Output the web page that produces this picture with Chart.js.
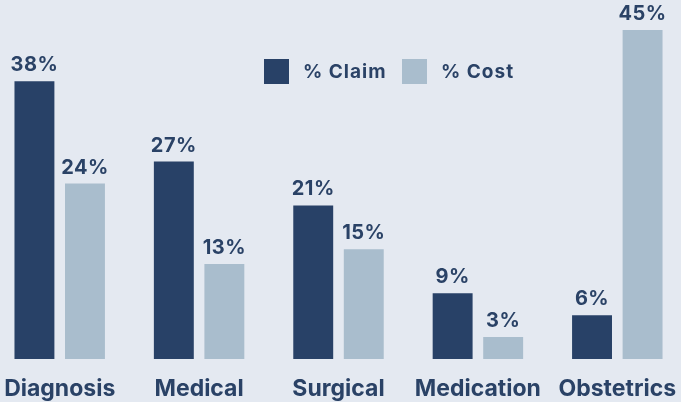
<!DOCTYPE html>
<html lang="en">
<head>
    <meta charset="UTF-8">
    <meta name="viewport" content="width=device-width, initial-scale=1.0">
    <title>Claims vs Cost by Category</title>
    <style>
        html, body {
            margin: 0;
            padding: 0;
            background-color: #e4e9f1;
            overflow: hidden;
        }
        .chart-wrap {
            position: absolute;
            left: -10px;
            top: 0;
            width: 697px;
            height: 402px;
        }
    </style>
</head>
<body>
    <div class="chart-wrap">
        <canvas id="claimChart"></canvas>
    </div>

    <script src="https://cdn.jsdelivr.net/npm/chart.js"></script>
    <script>
        // Chart data
        const categories = ['Diagnosis', 'Medical', 'Surgical', 'Medication', 'Obstetrics'];
        const claimPct = [38, 27, 21, 9, 6];
        const costPct = [24, 13, 15, 3, 45];
        const seriesNames = ['% Claim', '% Cost'];

        const darkBlue = '#284167';
        const paleBlue = '#a9bdcd';
        const textColor = '#2a4266';
        const fontFamily = 'Inter, "Open Sans", sans-serif';

        // value labels above each bar
        const valueLabels = {
            id: 'valueLabels',
            afterDatasetsDraw(chart) {
                const ctx = chart.ctx;
                ctx.save();
                ctx.font = `700 20px ${fontFamily}`;
                ctx.letterSpacing = '0.5px';
                ctx.fillStyle = textColor;
                ctx.textAlign = 'center';
                ctx.textBaseline = 'alphabetic';
                chart.data.datasets.forEach((ds, i) => {
                    chart.getDatasetMeta(i).data.forEach((bar, j) => {
                        ctx.fillText(ds.data[j] + '%', bar.x, bar.y - 10);
                    });
                });
                ctx.restore();
            }
        };

        // legend drawn inside the plot, right of centre
        const boxLegend = {
            id: 'boxLegend',
            afterDraw(chart, args, opts) {
                const ctx = chart.ctx;
                ctx.save();
                ctx.font = `700 19px ${fontFamily}`;
                ctx.letterSpacing = '1px';
                ctx.textBaseline = 'middle';
                ctx.textAlign = 'left';
                let x = opts.x;
                chart.data.datasets.forEach(ds => {
                    ctx.fillStyle = ds.backgroundColor;
                    ctx.fillRect(x, opts.y, 25, 25);
                    ctx.fillStyle = textColor;
                    ctx.fillText(ds.label, x + 39, opts.y + 13);
                    x = opts.x + 138;
                });
                ctx.restore();
            }
        };

        new Chart(document.getElementById('claimChart'), {
            type: 'bar',
            data: {
                labels: categories,
                datasets: [
                    { label: seriesNames[0], data: claimPct, backgroundColor: darkBlue },
                    { label: seriesNames[1], data: costPct, backgroundColor: paleBlue }
                ]
            },
            options: {
                responsive: true,
                maintainAspectRatio: false,
                animation: false,
                layout: { padding: { top: 30, left: 0, right: 0, bottom: 0 } },
                datasets: {
                    bar: { categoryPercentage: 0.725, barPercentage: 0.79 }
                },
                scales: {
                    x: {
                        grid: { display: false },
                        border: { display: false },
                        ticks: {
                            color: textColor,
                            font: { family: fontFamily, size: 23, weight: '700' },
                            padding: 8,
                            maxRotation: 0
                        },
                        afterFit(scale) {
                            scale.height = 43;
                        }
                    },
                    y: {
                        display: false,
                        min: 0,
                        max: 45
                    }
                },
                plugins: {
                    legend: { display: false },
                    tooltip: { enabled: false },
                    boxLegend: { x: 274, y: 59 }
                }
            },
            plugins: [valueLabels, boxLegend]
        });
    </script>
</body>
</html>
